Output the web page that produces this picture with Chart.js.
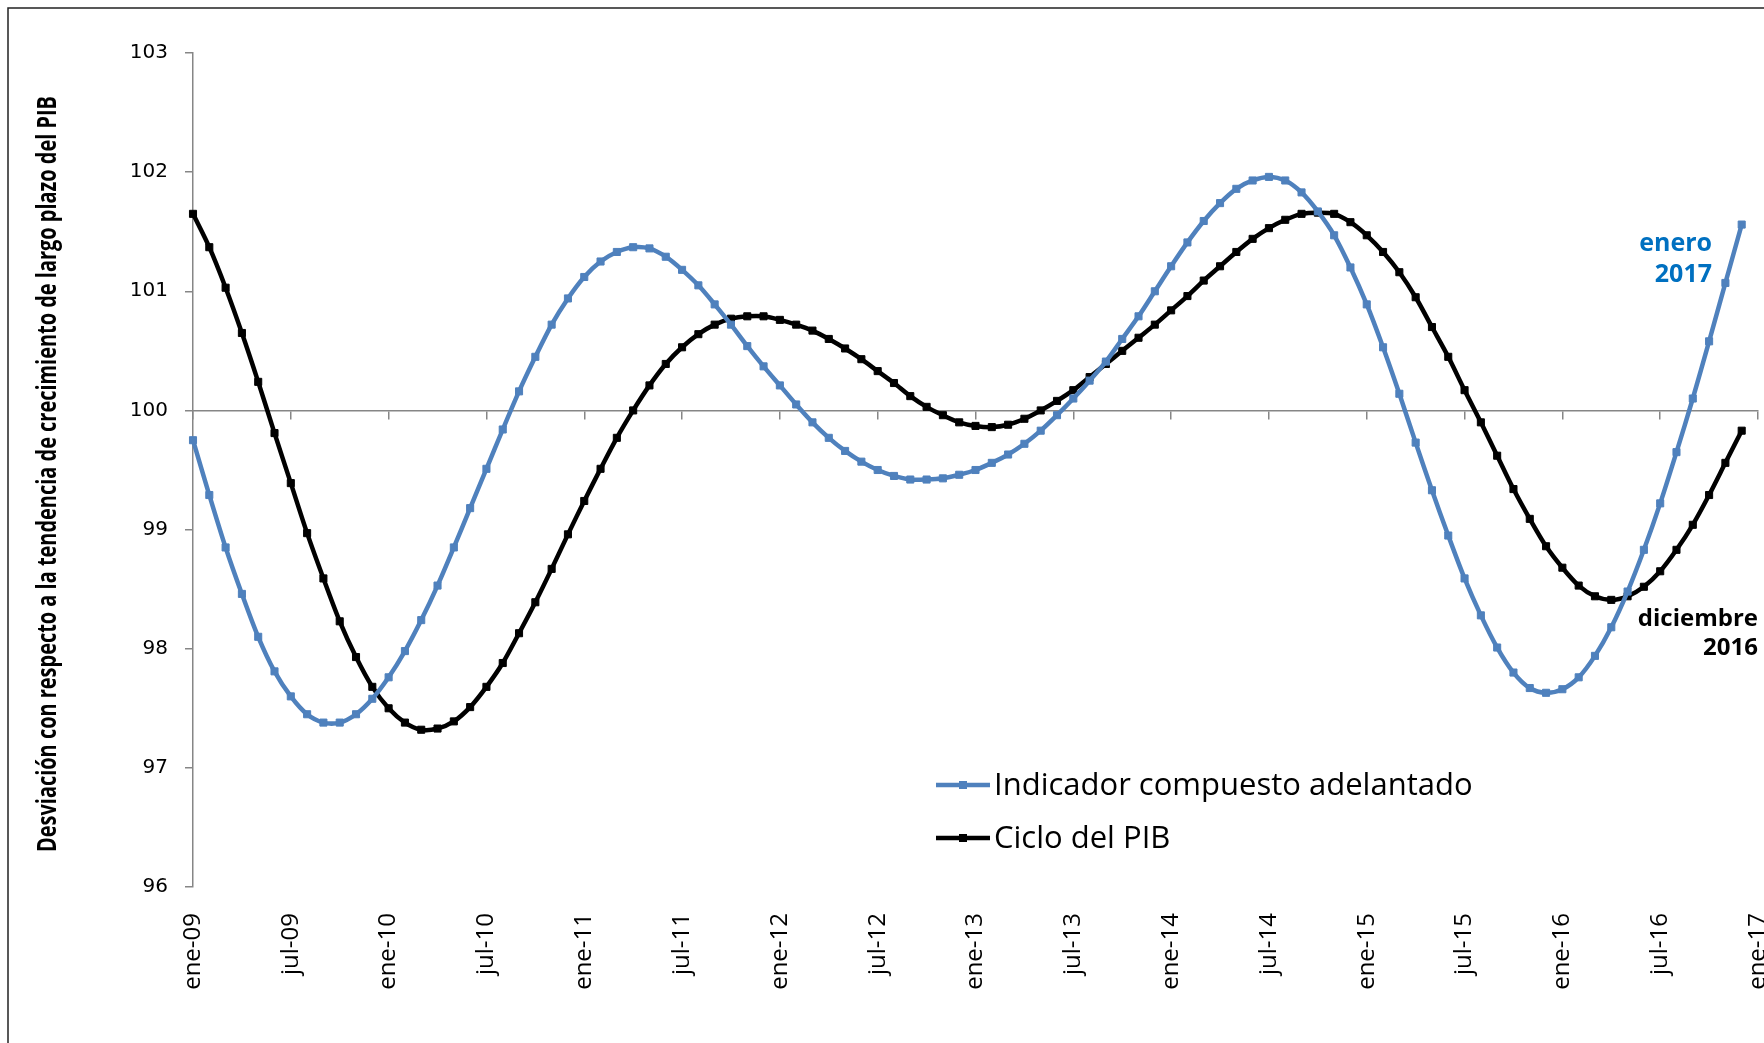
<!DOCTYPE html>
<html>
<head>
<meta charset="utf-8">
<script src="https://cdn.jsdelivr.net/npm/chart.js@4.4.1/dist/chart.umd.min.js"></script>
<style>
  html, body { margin: 0; padding: 0; background: #fff; }
  #wrap { width: 1764px; height: 1043px; }
</style>
</head>
<body>
<div id="wrap"><canvas id="grafico"></canvas></div>
<script>
// meses y años del eje (ene-09 ... ene-17)
const meses = ['ene','feb','mar','abr','may','jun','jul','ago','sep','oct','nov','dic'];
const anios = ['09','10','11','12','13','14','15','16','17'];

let categorias = [];
for (let a = 0; a < anios.length; a++) {
  for (let m = 0; m < 12; m++) {
    if (a === anios.length - 1 && m > 0) break;
    categorias.push(meses[m] + '-' + anios[a]);
  }
}

// Indicador compuesto adelantado (ene-09 a dic-16)
const indicador = [
  99.75, 99.29, 98.85, 98.46, 98.10, 97.81, 97.60, 97.45, 97.38, 97.38, 97.45, 97.58,
  97.76, 97.98, 98.24, 98.53, 98.85, 99.18, 99.51, 99.84, 100.16, 100.45, 100.72, 100.94,
  101.12, 101.25, 101.33, 101.37, 101.36, 101.29, 101.18, 101.05, 100.89, 100.72, 100.54, 100.37,
  100.21, 100.05, 99.90, 99.77, 99.66, 99.57, 99.50, 99.45, 99.42, 99.42, 99.43, 99.46,
  99.50, 99.56, 99.63, 99.72, 99.83, 99.96, 100.10, 100.25, 100.41, 100.60, 100.79, 101.00,
  101.21, 101.41, 101.59, 101.74, 101.86, 101.93, 101.96, 101.93, 101.83, 101.67, 101.47, 101.20,
  100.89, 100.53, 100.14, 99.73, 99.33, 98.95, 98.59, 98.28, 98.01, 97.80, 97.67, 97.63,
  97.66, 97.76, 97.94, 98.18, 98.48, 98.83, 99.22, 99.65, 100.10, 100.58, 101.07, 101.56
];

// Ciclo del PIB (ene-09 a dic-16)
const cicloPib = [
  101.65, 101.37, 101.03, 100.65, 100.24, 99.81, 99.39, 98.97, 98.59, 98.23, 97.93, 97.68,
  97.50, 97.38, 97.32, 97.33, 97.39, 97.51, 97.68, 97.88, 98.13, 98.39, 98.67, 98.96,
  99.24, 99.51, 99.77, 100.00, 100.21, 100.39, 100.53, 100.64, 100.72, 100.77, 100.79, 100.79,
  100.76, 100.72, 100.67, 100.60, 100.52, 100.43, 100.33, 100.23, 100.12, 100.03, 99.96, 99.90,
  99.87, 99.86, 99.88, 99.93, 100.00, 100.08, 100.17, 100.28, 100.39, 100.50, 100.61, 100.72,
  100.84, 100.96, 101.09, 101.21, 101.33, 101.44, 101.53, 101.60, 101.65, 101.66, 101.65, 101.58,
  101.47, 101.33, 101.16, 100.95, 100.70, 100.45, 100.17, 99.90, 99.62, 99.34, 99.09, 98.86,
  98.68, 98.53, 98.44, 98.41, 98.44, 98.52, 98.65, 98.83, 99.04, 99.29, 99.56, 99.83
];

const yMin = 96;
const yMax = 103;
const tituloY = 'Desviación con respecto a la tendencia de crecimiento de largo plazo del PIB';
const azul = '#4F81BD';
const gris = '#868686';

// marco, titulo del eje, leyenda y notas
const extras = {
  id: 'extras',
  beforeDraw(chart) {
    const c = chart.ctx;
    c.save();
    c.fillStyle = '#fff';
    c.fillRect(0, 0, chart.width, chart.height);
    c.strokeStyle = '#222';
    c.lineWidth = 1.5;
    c.strokeRect(8, 8, chart.width + 50, chart.height + 50);
    c.restore();
  },
  afterDraw(chart) {
    const c = chart.ctx;
    c.save();

    // titulo vertical, condensado
    c.save();
    c.translate(49, 474);
    c.rotate(-Math.PI / 2);
    c.font = 'bold 26px "Open Sans"';
    let w = c.measureText(tituloY).width;
    c.scale(756 / w, 1);
    c.fillStyle = '#000';
    c.textAlign = 'center';
    c.textBaseline = 'middle';
    c.fillText(tituloY, 0, 0);
    c.restore();

    // leyenda
    const ys = [785, 838];
    chart.data.datasets.forEach(function(ds, i) {
      c.strokeStyle = ds.borderColor;
      c.lineWidth = 4.5;
      c.beginPath();
      c.moveTo(936, ys[i]);
      c.lineTo(990, ys[i]);
      c.stroke();
      c.fillStyle = ds.borderColor;
      c.fillRect(959, ys[i] - 4, 8, 8);
      c.fillStyle = '#000';
      c.font = '31px "Open Sans"';
      c.textAlign = 'left';
      c.textBaseline = 'middle';
      c.fillText(ds.label, 994, ys[i] + 1);
    });

    // notas
    c.textAlign = 'right';
    c.textBaseline = 'middle';
    c.font = 'bold 25px "Open Sans"';
    c.fillStyle = '#0070C0';
    c.fillText('enero', 1712, 244);
    c.fillText('2017', 1712, 275);
    c.font = 'bold 24px "Open Sans"';
    c.fillStyle = '#000';
    c.fillText('diciembre', 1758, 619);
    c.fillText('2016', 1758, 648);
    c.restore();
  }
};

const ctx = document.getElementById('grafico').getContext('2d');

new Chart(ctx, {
  type: 'line',
  data: {
    labels: categorias,
    datasets: [
      {
        label: 'Indicador compuesto adelantado',
        data: indicador,
        borderColor: azul,
        backgroundColor: azul,
        borderWidth: 4.5,
        pointStyle: 'rect',
        pointRadius: 5,
        pointBorderWidth: 1,
        tension: 0.3
      },
      {
        label: 'Ciclo del PIB',
        data: cicloPib,
        borderColor: '#000',
        backgroundColor: '#000',
        borderWidth: 4.5,
        pointStyle: 'rect',
        pointRadius: 5,
        pointBorderWidth: 1,
        tension: 0.3
      }
    ]
  },
  options: {
    responsive: true,
    maintainAspectRatio: false,
    animation: false,
    layout: { padding: { left: 0, right: 6, top: 53, bottom: 0 } },
    plugins: {
      legend: { display: false },
      tooltip: { enabled: false }
    },
    scales: {
      x: {
        type: 'category',
        position: 'bottom',
        offset: false,
        grid: { display: false },
        border: { display: false },
        ticks: {
          autoSkip: false,
          maxRotation: 90,
          minRotation: 90,
          padding: 18,
          color: '#000',
          font: { family: '"Open Sans"', size: 24 },
          callback: function(value, index) {
            return index % 6 === 0 ? categorias[index] : '';
          }
        },
        afterFit: function(s) {
          s.height = 156;
          s.paddingLeft = 0;
          s.paddingRight = 0;
        }
      },
      x2: {
        type: 'category',
        axis: 'x',
        position: { y: 100 },
        offset: false,
        ticks: { display: false },
        grid: {
          drawOnChartArea: false,
          drawTicks: true,
          tickLength: 8,
          lineWidth: 1.5,
          color: function(c) { return c.index % 6 === 0 ? gris : 'rgba(0,0,0,0)'; }
        },
        border: { display: true, color: gris, width: 1.5 },
        afterFit: function(s) {
          s.paddingLeft = 0;
          s.paddingRight = 0;
        }
      },
      y: {
        min: yMin,
        max: yMax,
        position: 'left',
        ticks: {
          stepSize: 1,
          padding: 17,
          color: '#000',
          font: { family: '"DejaVu Sans"', size: 20 }
        },
        grid: {
          drawOnChartArea: false,
          drawTicks: true,
          tickLength: 8,
          lineWidth: 1.5,
          color: gris
        },
        border: { display: true, color: gris, width: 1.5 },
        afterFit: function(s) {
          s.width = 193;
          s.paddingTop = 0;
          s.paddingBottom = 0;
        }
      }
    }
  },
  plugins: [extras]
});
</script>
</body>
</html>
